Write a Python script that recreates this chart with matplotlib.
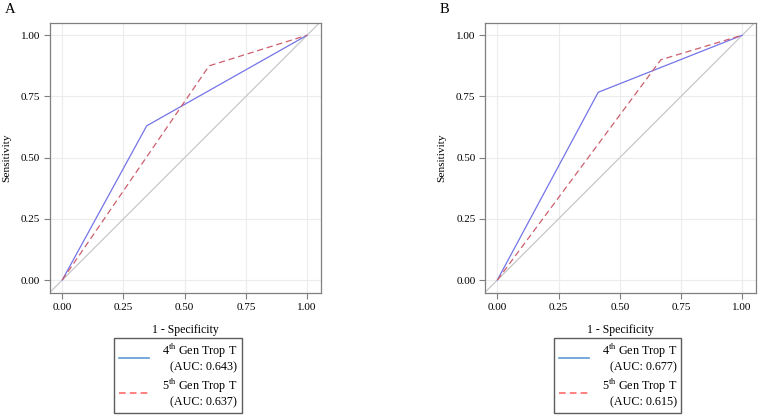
import numpy as np
import matplotlib.pyplot as plt

plt.rcParams['font.family'] = ['Liberation Serif', 'DejaVu Serif']
plt.rcParams['mathtext.fontset'] = 'custom'
plt.rcParams['mathtext.rm'] = 'Liberation Serif'

panels = ['A', 'B']
# ROC points (1 - specificity, sensitivity)
fpr4 = [[0.0, 0.345, 1.0], [0.0, 0.412, 1.0]]
tpr4 = [[0.0, 0.63, 1.0], [0.0, 0.767, 1.0]]
fpr5 = [[0.0, 0.60, 1.0], [0.0, 0.668, 1.0]]
tpr5 = [[0.0, 0.875, 1.0], [0.0, 0.90, 1.0]]
auc4 = ['0.643', '0.677']
auc5 = ['0.637', '0.615']
ticks = [0.0, 0.25, 0.5, 0.75, 1.0]
tick_labels = ['0.00', '0.25', '0.50', '0.75', '1.00']

fig = plt.figure(figsize=(7.58, 4.16), dpi=100)
lefts = [0.066, 0.640]
letter_x = [0.006, 0.580]
leg_shift = [-0.028, -0.01]
frame = '#7f7f7f'

for i in range(2):
    ax = fig.add_axes([lefts[i], 0.2957, 0.3575, 0.649])
    ax.set_xlim(-0.05, 1.057)
    ax.set_ylim(-0.053, 1.05)
    ax.grid(True, color='#ececec', linewidth=0.8)
    ax.set_axisbelow(True)
    ax.plot([-0.05, 1.057], [-0.05, 1.057], color='#c8c8c8', linewidth=0.9, zorder=2)
    ax.plot(fpr4[i], tpr4[i], color='#7474e8', linewidth=0.9, zorder=3)
    ax.plot(fpr5[i], tpr5[i], color='#cc5f6e', linewidth=0.9, linestyle=(0, (5, 3)), zorder=3)
    ax.set_xticks(ticks)
    ax.set_xticklabels(tick_labels)
    ax.set_yticks(ticks)
    ax.set_yticklabels(tick_labels)
    ax.tick_params(labelsize=8, length=4, width=0.8, color=frame, direction='out', pad=3)
    for s in ax.spines.values():
        s.set_color(frame)
        s.set_linewidth(0.9)
    ax.set_xlabel('1 - Specificity', fontsize=8.5, labelpad=9)
    ax.set_ylabel('Sensitivity', fontsize=8.2)
    ax.yaxis.set_label_coords(-0.143, 0.5)
    fig.text(letter_x[i], 0.978, panels[i], fontsize=10.5, va='center')

    h1, = ax.plot([], [], color='#5b9bd5', linewidth=1.2)
    h2, = ax.plot([], [], color='#ff6b6b', linewidth=1.2, linestyle=(0, (4, 2.5)))
    leg = ax.legend([h1, h2],
                    ['4$^{\\rm th}$ Gen Trop T\n(AUC: ' + auc4[i] + ')',
                     '5$^{\\rm th}$ Gen Trop T\n(AUC: ' + auc5[i] + ')'],
                    loc='upper center', bbox_to_anchor=(0.5 + leg_shift[i], -0.165),
                    fontsize=8.7, frameon=True, fancybox=False, edgecolor='#333333',
                    handlelength=2.5, handletextpad=1.1, borderpad=0.35, labelspacing=0.25,
                    borderaxespad=0)
    leg.get_frame().set_linewidth(1.0)
    for t in leg.get_texts():
        t.set_multialignment('right')

plt.savefig('out.png', dpi=100)
